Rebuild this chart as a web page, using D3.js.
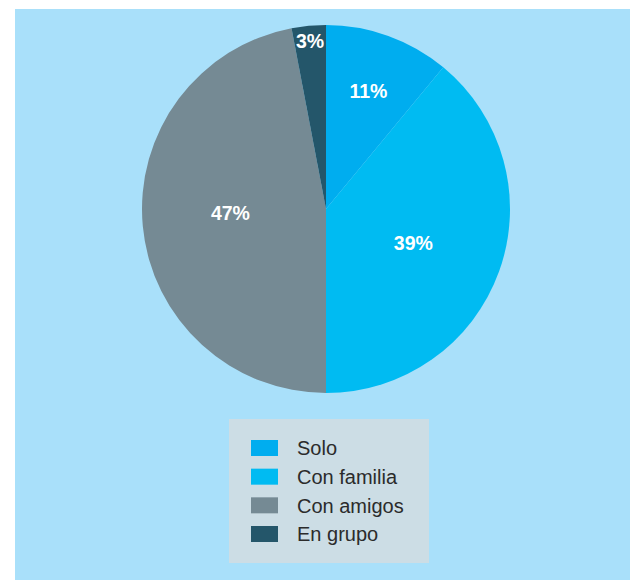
<!DOCTYPE html>
<html lang="es">
<head>
<meta charset="utf-8">
<title>pie</title>
<script src="https://cdn.jsdelivr.net/npm/d3@7"></script>
<style>
html,body {margin:0; padding:0; background:#fff;}
svg {display:block;}
</style>
</head>
<body>
<script>
// datos
var categories = ['Solo', 'Con familia', 'Con amigos', 'En grupo']
var values = [11, 39, 47, 3]
var colors = ['#00adef', '#00bbf2', '#758a94', '#24566a']

var W = 630, H = 580
var svg = d3.select('body').append('svg').attr('width', W).attr('height', H)

// fondo
svg.append('rect').attr('x', 15).attr('y', 9).attr('width', W - 15).attr('height', H - 9)
   .attr('fill', '#a9e0fa')

var cx = 326, cy = 209, R = 184
var g = svg.append('g').attr('transform', `translate(${cx},${cy})`)

var pie = d3.pie().sort(null).value(function(d) { return d })
var arcs = pie(values)
var arc = d3.arc().innerRadius(0).outerRadius(R)

g.selectAll('path.slice').data(arcs).enter().append('path')
  .attr('class', 'slice')
  .attr('d', arc)
  .attr('fill', function(d, i) { return colors[i] })

// etiquetas: radio relativo y giro (tipo "mejor ajuste")
var labelR = [0.68, 0.51, 0.52, 0.92]
var labelTurn = [0, 0.03, 0.05, 0]
g.selectAll('text.lbl').data(arcs).enter().append('text')
  .attr('class', 'lbl')
  .attr('transform', function(d, i) {
    var a = (d.startAngle + d.endAngle) / 2 + labelTurn[i]
    var r = labelR[i] * R
    return `translate(${Math.sin(a) * r},${-Math.cos(a) * r})`
  })
  .attr('text-anchor', 'middle')
  .attr('dy', '0.36em')
  .attr('fill', '#fff')
  .style('font-family', '"Liberation Sans", Arial, sans-serif')
  .style('font-weight', 'bold')
  .style('font-size', '19.5px')
  .text(function(d) { return d.data + '%' })

// leyenda
var lg = svg.append('g')
lg.append('rect').attr('x', 229).attr('y', 419).attr('width', 200).attr('height', 144)
  .attr('fill', '#ccdde5')

var y = d3.scalePoint().domain(categories).range([448, 534])
var rows = lg.selectAll('g.row').data(categories).enter().append('g')
  .attr('class', 'row')
  .attr('transform', function(d) { return `translate(0,${y(d)})` })
rows.append('rect').attr('x', 251).attr('y', -8).attr('width', 27).attr('height', 16)
  .attr('fill', function(d, i) { return colors[i] })
rows.append('text').attr('x', 297).attr('dy', '0.36em')
  .attr('fill', '#2b2b2b')
  .style('font-family', '"Liberation Sans", Arial, sans-serif')
  .style('font-size', '20px')
  .text(function(d) { return d })
</script>
</body>
</html>
